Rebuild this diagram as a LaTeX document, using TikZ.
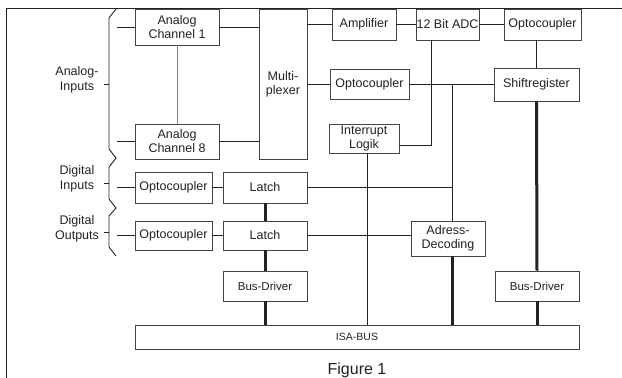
\documentclass[tikz,border=0pt]{standalone}
\usepackage{fontspec}
\setmainfont{Liberation Sans}
\usetikzlibrary{calc}
\definecolor{ink}{HTML}{222222}
\definecolor{edge}{HTML}{444444}
\begin{document}
\begin{tikzpicture}[x=1pt,y=-1pt,
  box/.style={draw=edge,line width=0.9pt,fill=white,inner sep=0pt,align=center,text=ink,
    font=\fontsize{12.5}{14}\selectfont},
  wire/.style={draw=ink,line width=0.9pt},
  bus/.style={draw=ink,line width=3pt},
  lbl/.style={text=ink,align=center,font=\fontsize{12.5}{15}\selectfont,inner sep=0pt}]
\useasboundingbox (0,0) rectangle (622,378);
% frame
\draw[wire] (622,8) -- (6,8) -- (6,378);
% boxes
\node[box,minimum width=84pt,minimum height=36pt] (ac1) at (177,27) {Analog\\Channel 1};
\node[box,minimum width=84pt,minimum height=35pt] (ac8) at (177,141.5) {Analog\\Channel 8};
\node[box,minimum width=48pt,minimum height=150pt] (mux) at (283,84) {Multi-\\plexer};
\node[box,minimum width=64pt,minimum height=31pt] (amp) at (364,24.5) {Amplifier};
\node[box,minimum width=63pt,minimum height=31pt] (adc) at (447.5,24.5) {12 Bit ADC};
\node[box,minimum width=77pt,minimum height=31pt] (opt1) at (542.5,24.5) {Optocoupler};
\node[box,minimum width=79pt,minimum height=30pt] (opt2) at (369.5,84) {Optocoupler};
\node[box,minimum width=85pt,minimum height=33pt] (shift) at (536.5,84.5) {Shiftregister};
\node[box,minimum width=70pt,minimum height=29pt] (intr) at (364,138.5) {Interrupt\\Logik};
\node[box,minimum width=77pt,minimum height=31pt] (optDI) at (173.5,187.5) {Optocoupler};
\node[box,minimum width=84pt,minimum height=31pt] (latchDI) at (265,187.5) {Latch};
\node[box,minimum width=77pt,minimum height=29pt] (optDO) at (173.5,235.5) {Optocoupler};
\node[box,minimum width=84pt,minimum height=29pt] (latchDO) at (265,235.5) {Latch};
\node[box,minimum width=84pt,minimum height=30pt,font=\fontsize{11.5}{13}\selectfont] (bdL) at (265,286) {Bus-Driver};
\node[box,minimum width=74pt,minimum height=35pt] (addr) at (448,238.5) {Adress-\\Decoding};
\node[box,minimum width=84pt,minimum height=30pt,font=\fontsize{11.5}{13}\selectfont] (bdR) at (537,286) {Bus-Driver};
\node[box,minimum width=444pt,minimum height=24pt,font=\fontsize{10.5}{12}\selectfont] (isa) at (357,337) {ISA-BUS};
% side labels
\node[lbl] (lai) at (77,80) {Analog-\\Inputs};
\node[lbl] (ldi) at (77,179) {Digital\\Inputs};
\node[lbl] (ldo) at (77,229) {Digital\\Outputs};
\node[lbl,anchor=base,font=\fontsize{16}{18}\selectfont] (fig) at (357,374) {Figure 1};
% braces
\draw[wire,line join=miter] (116,9) -- (109,18) -- (109,149) -- (116,158) -- (109,167) -- (109,199) -- (116,208) -- (109,216) -- (109,247) -- (116,256);
\draw[wire] (109,84) -- (104,84);
\draw[wire] (109,183) -- (104,183);
\draw[wire] (109,232) -- (104,232);
% input stubs
\coordinate (sx) at (117,0);
\draw[wire] (ac1.west -| sx) -- (ac1.west);
\draw[wire] (ac8.west -| sx) -- (ac8.west);
\draw[wire] (optDI.west -| sx) -- (optDI.west);
\draw[wire] (optDO.west -| sx) -- (optDO.west);
% analog chain
\draw[draw=gray,line width=0.9pt] (ac1.south) -- (ac8.north);
\draw[wire] (ac1.east) -- (ac1.east -| mux.west);
\draw[wire] (ac8.east) -- (ac8.east -| mux.west);
\draw[wire] (amp.west -| mux.east) -- (amp.west);
\draw[wire] (amp.east) -- (adc.west);
\draw[wire] (adc.east) -- (opt1.west);
\draw[wire] (opt2.west -| mux.east) -- (opt2.west);
\draw[wire] (opt2.east) -- (opt2.east -| shift.west);
\draw[wire] (shift.north) -- (shift.north |- opt1.south);
% ADC to interrupt
\coordinate (ak) at (431,145);
\draw[wire] (adc.south -| ak) -- (ak) -- (ak -| intr.east);
% interrupt to bus
\coordinate (ik) at (367,0);
\draw[wire] (intr.south -| ik) -- (isa.north -| ik);
% address decoding junction
\coordinate (jx) at (452,85);
\draw[wire] (jx) -- (addr.north -| jx);
\draw[wire] (latchDI.east) -- (latchDI.east -| jx);
\draw[wire] (latchDO.east) -- (latchDO.east -| addr.west);
\draw[wire] (optDI.east) -- (latchDI.west);
\draw[wire] (optDO.east) -- (latchDO.west);
% thick buses
\draw[bus] (latchDI.south) -- (latchDO.north);
\draw[bus] (latchDO.south) -- (bdL.north);
\draw[bus] (bdL.south) -- (isa.north -| bdL.south);
\draw[bus] (addr.south -| jx) -- (isa.north -| jx);
\draw[bus] (shift.south) -- (bdR.north);
\draw[bus] (bdR.south) -- (isa.north -| bdR.south);
\end{tikzpicture}
\end{document}
